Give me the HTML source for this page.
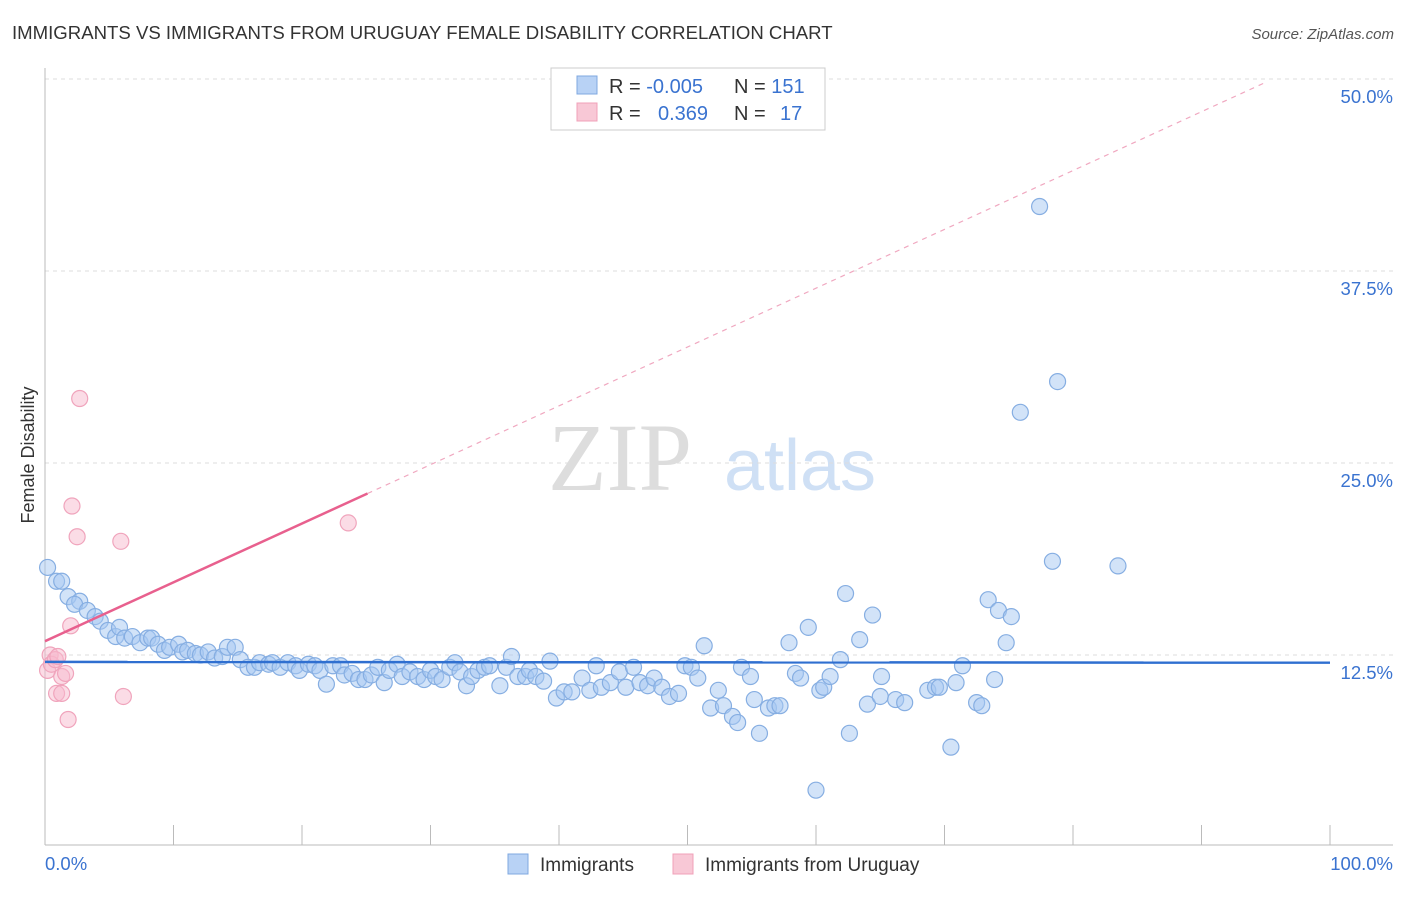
<!DOCTYPE html>
<html><head><meta charset="utf-8"><style>
body{margin:0;background:#fff;font-family:"Liberation Sans",sans-serif;}
svg text{font-family:"Liberation Sans",sans-serif;}
</style></head><body>
<svg width="1406" height="892">
<text x="12" y="39" font-size="18.6" fill="#333">IMMIGRANTS VS IMMIGRANTS FROM URUGUAY FEMALE DISABILITY CORRELATION CHART</text>
<text x="1394" y="39" font-size="15" fill="#555" text-anchor="end" font-style="italic">Source: ZipAtlas.com</text>
<text x="620" y="490" font-size="96" fill="#ddd" text-anchor="middle" style="font-family:'Liberation Serif',serif">ZIP</text>
<text x="800" y="490" font-size="72" fill="#cfe0f5" text-anchor="middle">atlas</text>
<g id="grid"></g>
<g id="axes"></g>
<g id="marks"></g>
<text transform="translate(34,455) rotate(-90)" font-size="18" fill="#333" text-anchor="middle">Female Disability</text>
<text x="45" y="870" font-size="18.5" fill="#3a73d0">0.0%</text>
<text x="1393" y="870" font-size="18.5" fill="#3a73d0" text-anchor="end">100.0%</text>
<g>
<rect x="551" y="68" width="274" height="62" fill="#fff" stroke="#ccc"/>
<rect x="577" y="76" width="20" height="18" fill="#b8d2f5" stroke="#7fa8e0"/>
<rect x="577" y="103" width="20" height="18" fill="#f8c8d6" stroke="#f0a0b8"/>
<text x="609" y="93" font-size="20" fill="#333">R = <tspan fill="#3a73d0">-0.005</tspan></text>
<text x="734" y="93" font-size="20" fill="#333">N = <tspan fill="#3a73d0">151</tspan></text>
<text x="609" y="120" font-size="20" fill="#333">R = <tspan fill="#3a73d0" x="658">0.369</tspan></text>
<text x="734" y="120" font-size="20" fill="#333">N = <tspan fill="#3a73d0" x="780">17</tspan></text>
</g>
<g>
<rect x="508" y="854" width="20" height="20" fill="#b8d2f5" stroke="#7fa8e0"/>
<text x="540" y="871" font-size="19" fill="#333">Immigrants</text>
<rect x="673" y="854" width="20" height="20" fill="#f8c8d6" stroke="#f0a0b8"/>
<text x="705" y="871" font-size="19" fill="#333">Immigrants from Uruguay</text>
</g>
</svg>
<script>
const yTicks=[12.5,25,37.5,50];
const yTickLabels=["12.5%","25.0%","37.5%","50.0%"];
const xTicks=[0,10,20,30,40,50,60,70,80,90,100];
const blueX=[0.2,0.9,1.3,1.8,2.7,2.3,3.3,3.9,4.3,4.9,5.5,5.8,6.2,6.8,7.4,8.0,8.3,8.8,9.3,9.7,10.4,10.7,11.1,11.7,12.1,12.7,13.2,13.8,14.2,14.8,15.2,15.8,16.3,16.7,17.4,17.7,18.3,18.9,19.5,19.8,20.5,21.0,21.4,21.9,22.4,23.0,23.3,23.9,24.4,24.9,25.4,25.9,26.4,26.8,27.4,27.8,28.4,29.0,29.5,30.0,30.4,30.9,31.5,31.9,32.3,32.8,33.2,33.7,34.2,34.6,35.4,35.9,36.3,36.8,37.4,37.7,38.2,38.8,39.3,39.8,40.4,41.0,41.8,42.4,42.9,43.3,44.0,44.7,45.2,45.8,46.3,46.9,47.4,48.0,48.6,49.3,49.8,50.3,50.8,51.3,51.8,52.4,52.8,53.5,53.9,54.2,54.9,55.2,55.6,56.3,56.8,57.2,57.9,58.4,58.8,59.4,60.0,60.3,60.6,61.1,61.9,62.3,62.6,63.4,64.0,64.4,65.0,65.1,66.2,66.9,68.7,69.3,69.6,70.5,70.9,71.4,72.5,72.9,73.4,73.9,74.2,74.8,75.2,75.9,77.4,78.4,78.8,83.5];
const blueY=[18.2,17.3,17.3,16.3,16.0,15.8,15.4,15.0,14.7,14.1,13.7,14.3,13.6,13.7,13.3,13.6,13.6,13.2,12.8,13.0,13.2,12.7,12.8,12.6,12.5,12.7,12.3,12.4,13.0,13.0,12.2,11.7,11.7,12.0,11.9,12.0,11.7,12.0,11.8,11.5,11.9,11.8,11.5,10.6,11.8,11.8,11.2,11.3,10.9,10.9,11.2,11.7,10.7,11.5,11.9,11.1,11.4,11.1,10.9,11.5,11.1,10.9,11.7,12.0,11.4,10.5,11.1,11.5,11.7,11.8,10.5,11.7,12.4,11.1,11.1,11.5,11.1,10.8,12.1,9.7,10.1,10.1,11.0,10.2,11.8,10.4,10.7,11.4,10.4,11.7,10.7,10.5,11.0,10.4,9.8,10.0,11.8,11.7,11.0,13.1,9.05,10.2,9.2,8.5,8.1,11.7,11.1,9.6,7.4,9.05,9.2,9.2,13.3,11.3,11.0,14.3,3.7,10.2,10.4,11.1,12.2,16.5,7.4,13.5,9.3,15.1,9.8,11.1,9.6,9.4,10.2,10.4,10.4,6.5,10.7,11.8,9.4,9.2,16.1,10.9,15.4,13.3,15.0,28.3,41.7,18.6,30.3,18.3];
const pinkX=[0.4,0.2,0.5,0.8,1.0,1.3,1.6,0.9,1.3,1.8,2.0,2.1,2.5,2.7,5.9,6.1,23.6];
const pinkY=[12.5,11.5,11.9,12.2,12.4,11.1,11.3,10.0,10.0,8.3,14.4,22.2,20.2,29.2,19.9,9.8,21.1];
const blueTrend=[12.05,12.0];
const pinkTrend=[13.4,0.383];
const NS="http://www.w3.org/2000/svg";
const X=v=>45+v*12.85, Y=v=>655-(v-12.5)*15.36;
function mk(t,a,p){const e=document.createElementNS(NS,t);for(const k in a)e.setAttribute(k,a[k]);p.appendChild(e);return e;}
const grid=document.getElementById('grid'),axes=document.getElementById('axes'),marks=document.getElementById('marks');
yTicks.forEach((t,i)=>{
 const l=mk('line',{x1:45,x2:1393,y1:Y(t),y2:Y(t),stroke:'#ddd','stroke-dasharray':'4,4'},grid);
 
 
 const tx=mk('text',{x:1393,y:Y(t)+24,'font-size':18.5,fill:'#3a73d0','text-anchor':'end'},grid);
 tx.textContent=yTickLabels[i];
 
 
});
const ax=mk('line',{x1:45,x2:1393,y1:845,y2:845,stroke:'#bbb'},axes);


const ay=mk('line',{x1:45,x2:45,y1:68,y2:845,stroke:'#bbb'},axes);


xTicks.forEach(t=>{const l=mk('line',{x1:X(t),x2:X(t),y1:825,y2:845,stroke:'#bbb'},axes);
 
 });
blueX.forEach((x,i)=>{const c=mk('circle',{cx:X(x),cy:Y(blueY[i]),r:8,fill:'rgba(165,200,242,0.5)',stroke:'#86aee2','stroke-width':1.2},marks);
 
 });
pinkX.forEach((x,i)=>{const c=mk('circle',{cx:X(x),cy:Y(pinkY[i]),r:8,fill:'rgba(247,185,205,0.5)',stroke:'#f0a4bc','stroke-width':1.2},marks);
 
 });
const bt=mk('line',{x1:X(0),x2:X(100),y1:Y(blueTrend[0]),y2:Y(blueTrend[1]),stroke:'#2f6fd0','stroke-width':2.5},marks);


const pe=25.1, pd=94.9;
const pt=mk('line',{x1:X(0),x2:X(pe),y1:Y(pinkTrend[0]),y2:Y(pinkTrend[0]+pinkTrend[1]*pe),stroke:'#e8608e','stroke-width':2.5},marks);


const pdl=mk('line',{x1:X(pe),x2:X(pd),y1:Y(pinkTrend[0]+pinkTrend[1]*pe),y2:Y(pinkTrend[0]+pinkTrend[1]*pd),stroke:'#f0a8c0','stroke-width':1.2,'stroke-dasharray':'5,5'},marks);


</script>
</body></html>
